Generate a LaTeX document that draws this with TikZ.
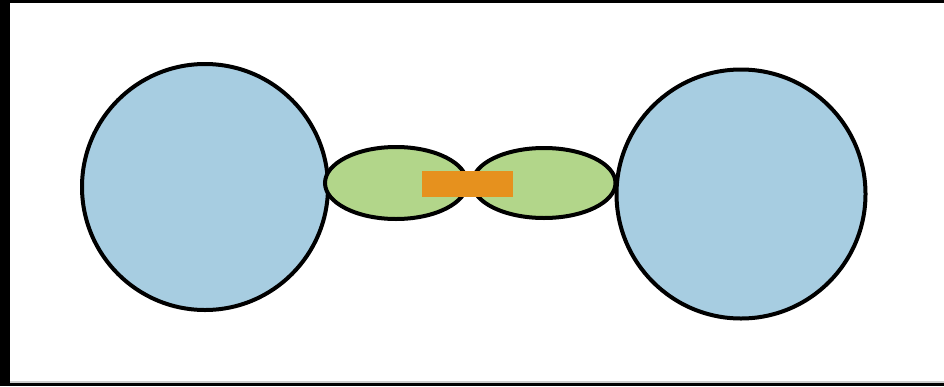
\documentclass[tikz,border=0pt]{standalone}
\usetikzlibrary{shapes.geometric}
\definecolor{lightblue}{RGB}{167,205,225}
\definecolor{lightgreen}{RGB}{178,214,138}
\definecolor{orangebar}{RGB}{230,145,30}
\tikzset{
  ball/.style={draw=black, fill=lightblue, line width=4pt},
  lobe/.style={draw=black, fill=lightgreen, line width=4pt},
  bar/.style={fill=orangebar, draw=none}
}
\begin{document}
\begin{tikzpicture}[x=1pt,y=-1pt]
\useasboundingbox (0,0) rectangle (944,386);
\fill[black] (0,0) rectangle (944,386);
\fill[gray!40] (10,3) rectangle (944,383);
\fill[white] (10,3) rectangle (944,381);
\node[ball, circle, minimum size=246pt, inner sep=0pt] (lball) at (205,187) {};
\node[ball, circle, minimum size=249pt, inner sep=0pt] (rball) at (741,194) {};
\node[lobe, ellipse, minimum width=142pt, minimum height=72pt, inner sep=0pt] (llobe) at (396,183) {};
\node[lobe, ellipse, minimum width=143pt, minimum height=70pt, inner sep=0pt] (rlobe) at (544,183) {};
\node[bar, minimum width=91pt, minimum height=26pt, inner sep=0pt] (core) at (467,183.5) {};
\end{tikzpicture}
\end{document}
